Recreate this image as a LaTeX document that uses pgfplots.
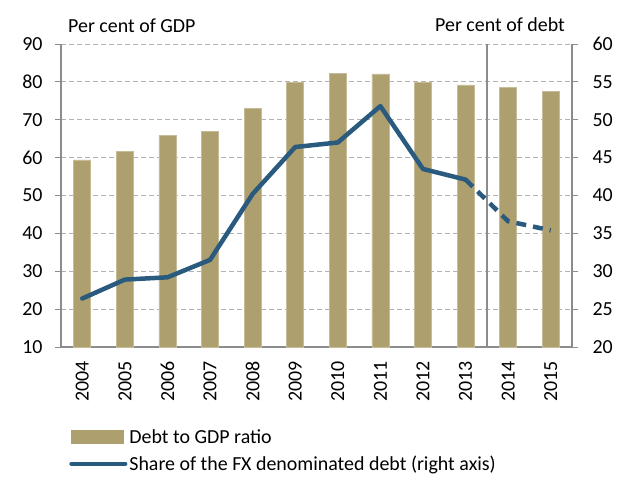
\documentclass[border=0pt]{standalone}
\usepackage{pgfplots}
\pgfplotsset{compat=1.18}
\usepackage{fontspec}
\setmainfont{Carlito}
\definecolor{barcol}{HTML}{AD9F6E}
\definecolor{linecol}{HTML}{2A5A7E}
\definecolor{axcol}{HTML}{8C8C8C}
\begin{document}
\begin{tikzpicture}
\path[use as bounding box] (-61bp,-132bp) rectangle (562bp,347bp);
\pgfplotsset{
  base/.style={
    at={(0,0)}, anchor=south west,
    scale only axis, width=511bp, height=303bp,
    xmin=-0.5, xmax=11.5,
    font=\fontsize{20}{24}\selectfont,
    /pgf/number format/assume math mode=true,
    axis line style={axcol, line width=1.2bp},
    major tick style={axcol, line width=1bp},
    tick align=outside, major tick length=6bp,
  }
}
\begin{axis}[base,
  ymin=10, ymax=90, ytick={10,20,...,90},
  axis y line*=left, axis x line*=bottom,
  yticklabel style={xshift=-9bp},
  xtick={0,...,11},
  xticklabels={2004,2005,2006,2007,2008,2009,2010,2011,2012,2013,2014,2015},
  xticklabel style={rotate=90, anchor=east, xshift=-5bp},
  x tick style={draw=none},
  ymajorgrids, grid style={gray!60, line width=1bp, dash pattern=on 5bp off 3bp},
  clip=false,
]
\addplot[ybar, bar width=17bp, fill=barcol, draw=barcol!70!white, line width=0.6bp, bar shift=0pt] coordinates {
(0,59.4) (1,61.6) (2,65.8) (3,67.0) (4,72.9) (5,79.8) (6,82.2) (7,82.1) (8,79.8) (9,79.2) (10,78.6) (11,77.5)};
\draw[axcol, line width=1.5bp] (axis cs:9.5,10) -- (axis cs:9.5,90);
\node[anchor=base west, inner sep=0pt] at ([xshift=7bp, yshift=12bp]rel axis cs:0,1) {Per cent of GDP};
\node[anchor=base east, inner sep=0pt] at ([xshift=-7bp, yshift=13bp]rel axis cs:1,1) {Per cent of debt};
\end{axis}
\begin{axis}[base,
  ymin=20, ymax=60, ytick={20,25,...,60},
  axis y line*=right, axis x line=none,
  yticklabel style={xshift=11bp},
  legend style={at={([yshift=-80bp]rel axis cs:0.016,0)}, anchor=north west, draw=none, fill=none,
    font=\fontsize{20}{24}\selectfont, cells={anchor=west}, row sep=7bp, inner sep=0pt,
    nodes={inner xsep=2bp}},
  legend cell align=left,
]
\addlegendimage{legend image code/.code={\fill[barcol] (0bp,-6.5bp) rectangle (52bp,6.5bp);}}
\addlegendentry{Debt to GDP ratio}
\addlegendimage{legend image code/.code={\draw[linecol, line width=4bp, line cap=round] (0bp,0bp) -- (54bp,0bp);}}
\addlegendentry{Share of the FX denominated debt (right axis)}
\addplot[linecol, line width=4.5bp, line join=round, line cap=round, forget plot] coordinates {
(0,26.4) (1,28.9) (2,29.2) (3,31.5) (4,40.2) (5,46.4) (6,47.0) (7,51.8) (8,43.5) (9,42.1)};
\addplot[linecol, line width=4.5bp, line join=round, dash pattern=on 10bp off 7bp, forget plot] coordinates {
(9,42.1) (10,36.6) (11,35.4)};
\end{axis}
\end{tikzpicture}
\end{document}
